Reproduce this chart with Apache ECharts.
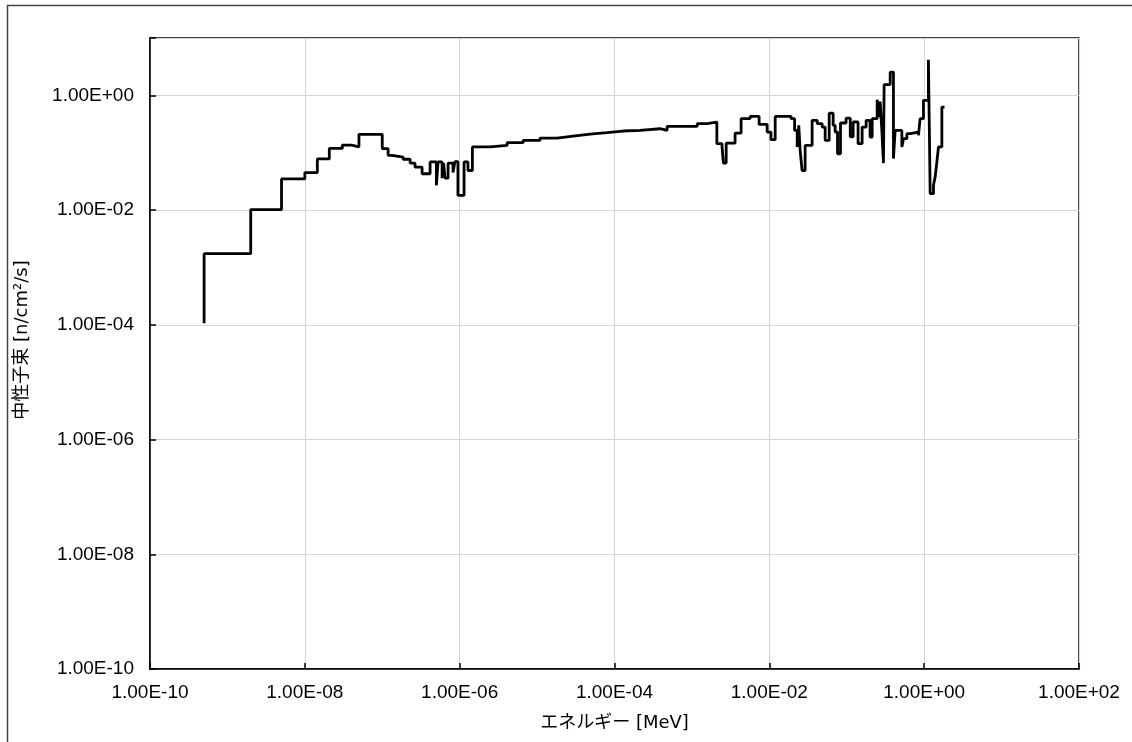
<!DOCTYPE html>
<html><head><meta charset="utf-8">
<script src="https://cdn.jsdelivr.net/npm/echarts@6/dist/echarts.min.js"></script>
<style>html,body{margin:0;padding:0;background:#fff}#c{width:1132px;height:742px}</style>
</head><body><div id="c"></div>
<script>
// Step-plot points: energy [MeV] and neutron flux [n/cm2/s]
const energy = [
  5e-10, 5e-10, 2.0e-9, 5.0e-9, 1.0e-8, 1.45e-8, 2.07e-8, 3.05e-8, 4.0e-8, 5.0e-8,
  1.0e-7, 1.19e-7, 1.34e-7, 1.86e-7, 2.29e-7, 2.65e-7, 3.27e-7, 4.15e-7, 5.0e-7, 5.26e-7,
  5.93e-7, 6.2e-7, 6.47e-7, 7.08e-7, 8.2e-7, 8.7e-7, 9.5e-7, 1.14e-6, 1.28e-6, 1.46e-6,
  2.47e-6, 4.1e-6, 6.6e-6, 1.09e-5, 1.81e-5, 2.92e-5, 4.84e-5, 8.0e-5, 1.29e-4, 2.14e-4,
  3.88e-4, 4.78e-4, 1.17e-3, 1.57e-3, 2.10e-3, 2.45e-3, 2.55e-3, 2.77e-3, 3.61e-3, 4.32e-3,
  5.65e-3, 7.38e-3, 9.37e-3, 1.05e-2, 1.19e-2, 1.91e-2, 2.12e-2, 2.29e-2, 2.40e-2, 2.50e-2,
  2.65e-2, 2.90e-2, 3.57e-2, 4.15e-2, 4.81e-2, 5.26e-2, 5.93e-2, 6.67e-2, 7.08e-2, 7.6e-2,
  8.3e-2, 9.8e-2, 0.111, 0.121, 0.140, 0.158, 0.178, 0.200, 0.213, 0.247,
  0.262, 0.270, 0.284, 0.298, 0.304, 0.364, 0.401, 0.422, 0.515, 0.541,
  0.598, 0.660, 0.844, 0.887, 0.979, 1.135, 1.196, 1.319, 1.387, 1.459,
  1.531, 1.693, 1.83
];
const flux = [
  1.06e-4, 1.74e-3, 1.02e-2, 0.035, 0.045, 0.078, 0.119, 0.136, 0.126, 0.209,
  0.118, 0.090, 0.084, 0.077, 0.066, 0.056, 0.043, 0.069, 0.027, 0.069,
  0.036, 0.066, 0.036, 0.066, 0.045, 0.070, 0.018, 0.069, 0.049, 0.126,
  0.134, 0.150, 0.164, 0.180, 0.195, 0.211, 0.224, 0.239, 0.245, 0.262,
  0.245, 0.288, 0.321, 0.343, 0.144, 0.126, 0.066, 0.147, 0.220, 0.392,
  0.430, 0.312, 0.229, 0.169, 0.430, 0.392, 0.245, 0.126, 0.300, 0.110,
  0.049, 0.134, 0.367, 0.321, 0.280, 0.164, 0.490, 0.300, 0.230, 0.096,
  0.330, 0.400, 0.190, 0.343, 0.144, 0.280, 0.367, 0.188, 0.392, 0.840,
  0.420, 0.780, 0.245, 0.066, 1.54, 2.55, 0.079, 0.245, 0.126, 0.176,
  0.215, 0.229, 0.201, 0.392, 0.818, 4.19, 0.0193, 0.027, 0.038, 0.069,
  0.126, 0.625, 0.625
];
const xTickLabels = ['1.00E-10','1.00E-08','1.00E-06','1.00E-04','1.00E-02','1.00E+00','1.00E+02'];
const yTickLabels = ['1.00E-10','1.00E-08','1.00E-06','1.00E-04','1.00E-02','1.00E+00'];
const xTitle = 'エネルギー [MeV]';
const yTitle = '中性子束 [n/cm²/s]';

const FONT = '"Liberation Sans", "Noto Sans CJK JP", sans-serif';
const TITLE_FONT = '"DejaVu Sans", "Noto Sans CJK JP", sans-serif';
function labelFrom(list) {
  return function (v) {
    const e = Math.round(Math.log10(v));
    const i = (e + 10) / 2;
    return (Number.isInteger(i) && list[i]) ? list[i] : '';
  };
}
const chart = echarts.init(document.getElementById('c'), null, {renderer: 'canvas'});
const axisCommon = {
  type: 'log', logBase: 10, interval: 2,
  axisLine: {show: true, lineStyle: {color: '#000', width: 1.5}},
  axisTick: {show: true, inside: true, length: 6, lineStyle: {color: '#000', width: 1.5}},
  splitLine: {show: true, lineStyle: {color: '#d6d6d6', width: 1.2}},
  minorTick: {show: false}, minorSplitLine: {show: false}
};
chart.setOption({
  backgroundColor: '#fff',
  animation: false,
  grid: {left: 150, top: 38, right: 53, bottom: 73, show: true, borderColor: '#000', borderWidth: 1.5, containLabel: false},
  graphic: [
    {type: 'rect', left: 5, top: 3, shape: {x: 0, y: 0, width: 1200, height: 800}, style: {fill: 'none', stroke: '#444', lineWidth: 1.5}, z: -10},
    {type: 'text', x: 22, y: 340, rotation: Math.PI / 2, style: {text: yTitle, font: '18px ' + TITLE_FONT, fill: '#000', align: 'center', verticalAlign: 'middle'}}
  ],
  xAxis: Object.assign({}, axisCommon, {
    min: 1e-10, max: 1e2,
    axisLabel: {formatter: labelFrom(xTickLabels), color: '#000', fontFamily: FONT, fontSize: 19, margin: 14},
    name: xTitle, nameLocation: 'middle', nameGap: 45,
    nameTextStyle: {color: '#000', fontFamily: TITLE_FONT, fontSize: 18}
  }),
  yAxis: Object.assign({}, axisCommon, {
    min: 1e-10, max: 10,
    axisLabel: {formatter: labelFrom(yTickLabels), color: '#000', fontFamily: FONT, fontSize: 19, margin: 16}
  }),
  series: [{
    type: 'line', step: 'end', showSymbol: false, symbol: 'none',
    data: energy.map((e, i) => [e, flux[i]]),
    lineStyle: {color: '#000', width: 2.8}, itemStyle: {color: '#000'}
  }]
});
</script>
</body></html>
